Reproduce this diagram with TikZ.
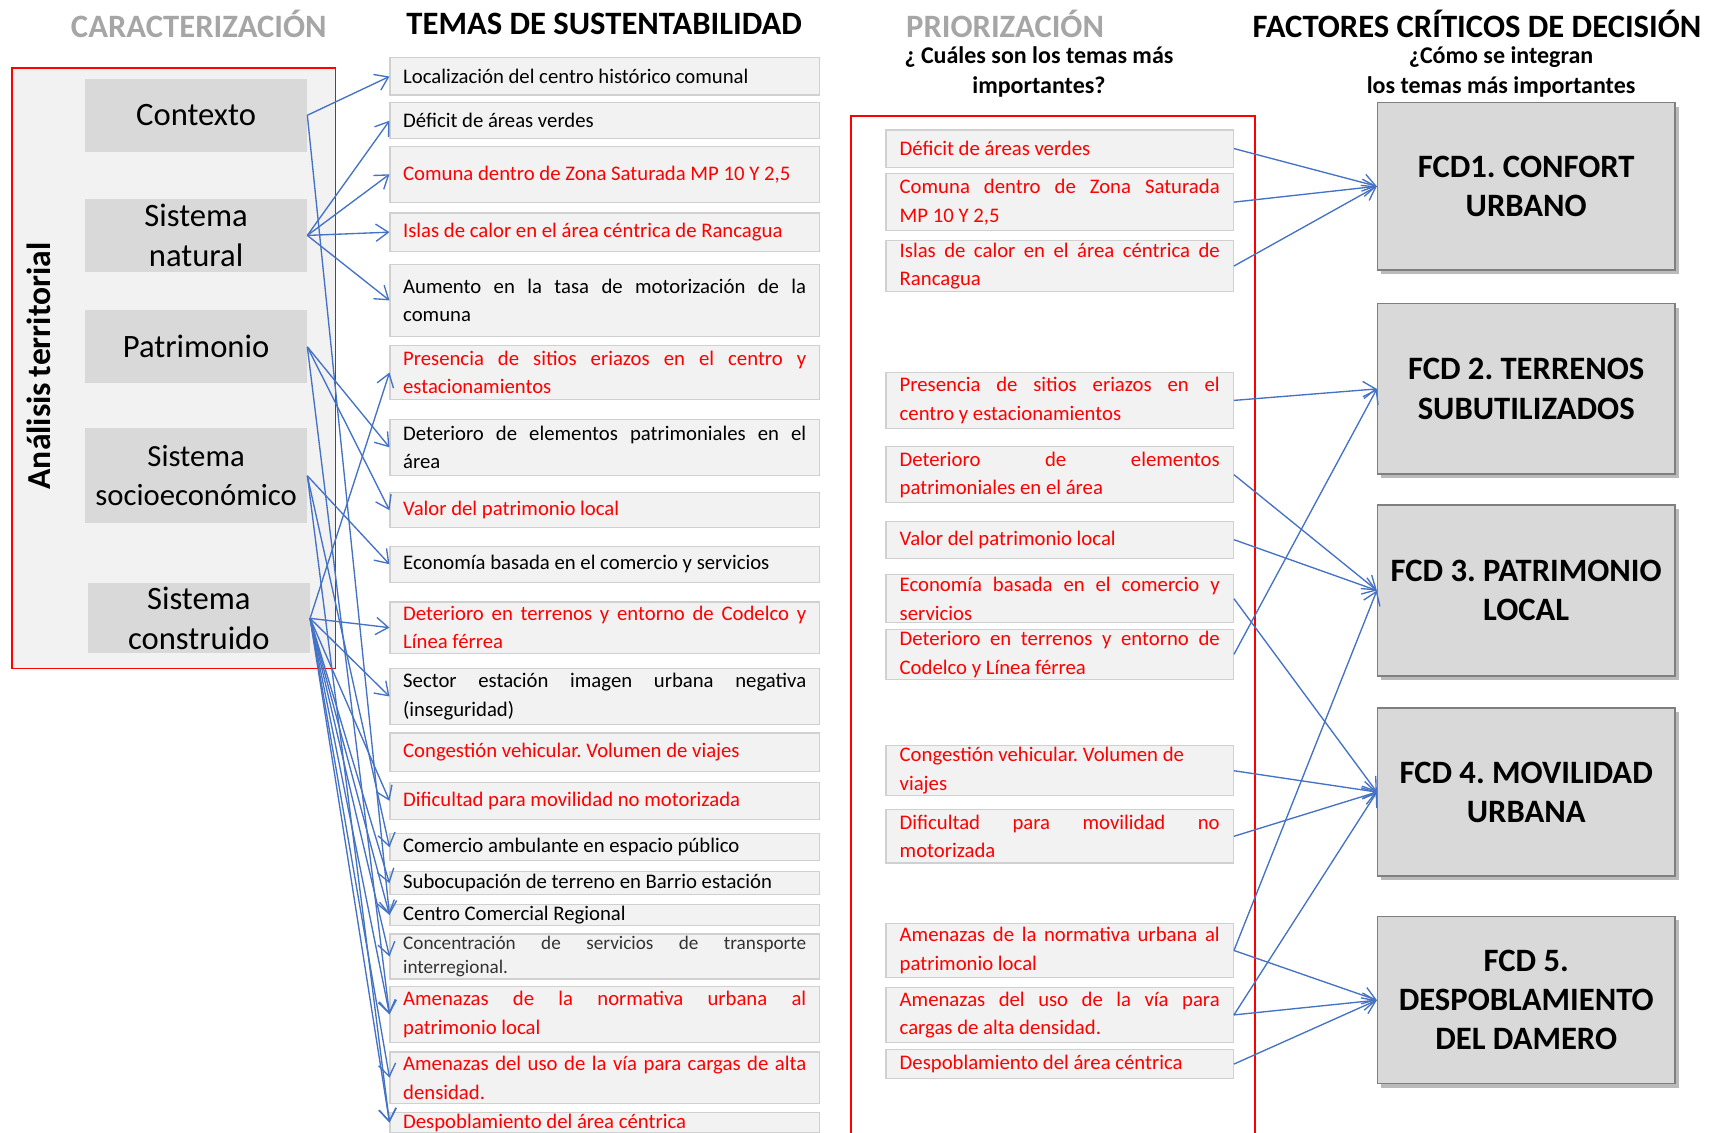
\documentclass[tikz,border=0pt]{standalone}
\usepackage{fontspec}
\setmainfont{Carlito}
\usetikzlibrary{positioning, arrows.meta, shadows}
\definecolor{azul}{HTML}{4472C4}
\definecolor{rojo}{HTML}{FF0000}
\definecolor{gristxt}{HTML}{A6A6A6}
\definecolor{grisclaro}{HTML}{F2F2F2}
\definecolor{grismedio}{HTML}{D9D9D9}
\definecolor{borde}{HTML}{D0D0D0}
\definecolor{bordefcd}{HTML}{7F7F7F}
\tolerance=10000
\hbadness=10000
\hyphenpenalty=10000
\frenchspacing

\begin{document}
\begin{tikzpicture}[x=0.02cm, y=-0.02cm,
    titulo/.style={font=\fontsize{17}{20}\selectfont\bfseries},
    pregunta/.style={font=\fontsize{12.5}{15.5}\selectfont\bfseries, align=center},
    celda/.style={rectangle, fill=grismedio, minimum width=4.06cm, inner ysep=0pt, align=center, font=\fontsize{17}{20.4}\selectfont},
    tema/.style={rectangle, draw=borde, fill=grisclaro, line width=0.6pt, minimum width=7.86cm, text width=7.38cm, inner xsep=0.24cm, inner ysep=1pt, align=justify, font=\fontsize{10.8}{14.8}\selectfont},
    prio/.style={tema, minimum width=6.36cm, text width=5.86cm, inner xsep=0.25cm, text=rojo},
    fcd/.style={rectangle, draw=bordefcd, fill=grismedio, line width=0.8pt, minimum width=5.44cm, align=center, font=\fontsize{17}{20.4}\selectfont\bfseries, drop shadow={shadow xshift=0.07cm, shadow yshift=-0.07cm, fill=black!45, opacity=0.6}},
    flecha/.style={draw=azul, line width=0.7pt, -{Straight Barb[length=6.5pt, width=9pt]}},
    marco/.style={draw=rojo, line width=0.9pt}]

    \useasboundingbox (0,0) rectangle (1568,1037);
    \clip (0,0) rectangle (1568,1037);

    \node[titulo, text=gristxt] (car) at (182,22) {CARACTERIZACIÓN};
    \node[titulo] (tem) at (553,22) {TEMAS DE SUSTENTABILIDAD};
    \node[titulo, text=gristxt] (pri) at (920,22) {PRIORIZACIÓN};
    \node[pregunta] (prip) at (951,66) {¿ Cuáles son los temas más\\importantes?};
    \node[titulo] (fac) at (1352,22) {FACTORES CRÍTICOS DE DECISIÓN};
    \node[pregunta] (facp) at (1374,66) {¿Cómo se integran\\los temas más importantes};

    \draw[marco, fill=grisclaro] (11,62) rectangle (307,612);
    \node[rotate=90, font=\fontsize{17.5}{20}\selectfont\bfseries] (ana) at (36,335) {Análisis\,territorial};
    \node[celda, minimum height=1.34cm] (ctx) at (179.5,105.5) {Contexto};
    \node[celda, minimum height=1.34cm] (nat) at (179.5,215.5) {Sistema\\natural};
    \node[celda, minimum height=1.34cm] (pat) at (179.5,317.5) {Patrimonio};
    \node[celda, minimum height=1.74cm, font=\fontsize{16}{20.4}\selectfont] (soc) at (179.5,435.5) {Sistema\\socioeconómico};
    \node[celda, minimum height=1.28cm] (con) at (182,566) {Sistema\\construido};

    \node[tema, minimum height=0.68cm] (t1) at (553.5,70) {Localización del centro histórico comunal};
    \node[tema, minimum height=0.66cm] (t2) at (553.5,110.5) {Déficit de áreas verdes};
    \node[tema, minimum height=1.02cm, text=rojo] (t3) at (553.5,159.5) {Comuna dentro de Zona Saturada MP 10 Y 2,5};
    \node[tema, minimum height=0.70cm, text=rojo] (t4) at (553.5,212.5) {Islas de calor en el área céntrica de Rancagua};
    \node[tema, minimum height=1.32cm] (t5) at (553.5,275) {Aumento en la tasa de motorización de la \linebreak comuna};
    \node[tema, minimum height=1.00cm, text=rojo] (t6) at (553.5,341) {Presencia de sitios eriazos en el centro y \linebreak estacionamientos};
    \node[tema, minimum height=1.02cm] (t7) at (553.5,409.5) {Deterioro de elementos patrimoniales en el \linebreak área};
    \node[tema, minimum height=0.64cm, text=rojo] (t8) at (553.5,467) {Valor del patrimonio local};
    \node[tema, minimum height=0.66cm] (t9) at (553.5,516.5) {Economía basada en el comercio y servicios};
    \node[tema, minimum height=0.94cm, text=rojo] (t10) at (553.5,574.5) {Deterioro en terrenos y entorno de Codelco y \linebreak Línea férrea};
    \node[tema, minimum height=1.02cm] (t11) at (553.5,637.5) {Sector estación imagen urbana negativa \linebreak (inseguridad)};
    \node[tema, minimum height=0.70cm, text=rojo] (t12) at (553.5,688.5) {Congestión vehicular. Volumen de viajes};
    \node[tema, minimum height=0.68cm, text=rojo] (t13) at (553.5,733) {Dificultad para movilidad no motorizada};
    \node[tema, minimum height=0.50cm] (t14) at (553.5,775.5) {Comercio ambulante en espacio público};
    \node[tema, minimum height=0.42cm] (t15) at (553.5,808.5) {Subocupación de terreno en Barrio estación};
    \node[tema, minimum height=0.38cm, inner ysep=0pt] (t16) at (553.5,837.5) {Centro Comercial Regional};
    \node[tema, minimum height=0.78cm, text=black!80, font=\fontsize{10}{12.8}\selectfont] (t17) at (553.5,875.5) {Concentración de servicios de transporte \linebreak interregional.};
    \node[tema, minimum height=1.02cm, text=rojo] (t18) at (553.5,928.5) {Amenazas de la normativa urbana al \linebreak patrimonio local};
    \node[tema, minimum height=0.94cm, text=rojo] (t19) at (553.5,986.5) {Amenazas del uso de la vía para cargas de alta \linebreak densidad.};
    \node[tema, minimum height=0.38cm, inner ysep=0pt, text=rojo] (t20) at (553.5,1027.5) {Despoblamiento del área céntrica};

    \draw[marco] (779,1045) -- (779,106) -- (1149,106) -- (1149,1045);
    \node[prio, minimum height=0.68cm] (p1) at (970,136) {Déficit de áreas verdes};
    \node[prio, minimum height=1.04cm] (p2) at (970,185) {Comuna dentro de Zona Saturada \linebreak MP 10 Y 2,5};
    \node[prio, minimum height=0.86cm] (p3) at (970,243.5) {Islas de calor en el área céntrica de \linebreak Rancagua};
    \node[prio, minimum height=1.02cm] (p4) at (970,366.5) {Presencia de sitios eriazos en el \linebreak centro y estacionamientos};
    \node[prio, minimum height=1.02cm] (p5) at (970,434.5) {Deterioro de elementos \linebreak patrimoniales en el área};
    \node[prio, minimum height=0.68cm] (p6) at (970,494) {Valor del patrimonio local};
    \node[prio, minimum height=0.88cm] (p7) at (970,548) {Economía basada en el comercio y \linebreak servicios};
    \node[prio, minimum height=0.92cm] (p8) at (970,599) {Deterioro en terrenos y entorno de \linebreak Codelco y Línea férrea};
    \node[prio, minimum height=0.86cm] (p9) at (970,705.5) {Congestión vehicular. Volumen de\\viajes};
    \node[prio, minimum height=0.98cm] (p10) at (970,765.5) {Dificultad para movilidad no \linebreak motorizada};
    \node[prio, minimum height=1.00cm] (p11) at (970,870) {Amenazas de la normativa urbana al \linebreak patrimonio local};
    \node[prio, minimum height=1.00cm] (p12) at (970,929) {Amenazas del uso de la vía para \linebreak cargas de alta densidad.};
    \node[prio, minimum height=0.52cm] (p13) at (970,974) {Despoblamiento del área céntrica};

    \node[fcd, minimum height=3.06cm] (f1) at (1397,170.5) {FCD1. CONFORT\\URBANO};
    \node[fcd, minimum height=3.12cm] (f2) at (1397,356) {FCD 2. TERRENOS\\SUBUTILIZADOS};
    \node[fcd, minimum height=3.14cm] (f3) at (1397,540.5) {FCD 3. PATRIMONIO\\LOCAL};
    \node[fcd, minimum height=3.08cm] (f4) at (1397,725) {FCD 4. MOVILIDAD\\URBANA};
    \node[fcd, minimum height=3.06cm] (f5) at (1397,915.5) {FCD 5.\\DESPOBLAMIENTO\\DEL DAMERO};

    \draw[flecha] (ctx.east) -- (t1.west);
    \draw[flecha] (ctx.east) -- (t16.west);
    \foreach \t in {t2,t3,t4,t5}
        \draw[flecha] (nat.east) -- (\t.west);
    \foreach \t in {t7,t8,t18}
        \draw[flecha] (pat.east) -- (\t.west);
    \foreach \t in {t9,t14,t20}
        \draw[flecha] (soc.east) -- (\t.west);
    \foreach \t in {t6,t10,t11,t13,t15,t16,t17,t18,t19,t20}
        \draw[flecha] (con.east) -- (\t.west);

    \foreach \p in {p1,p2,p3}
        \draw[flecha] (\p.east) -- (f1.west);
    \foreach \p in {p4,p8}
        \draw[flecha] (\p.east) -- (f2.west);
    \foreach \p in {p5,p6,p11}
        \draw[flecha] (\p.east) -- (f3.west);
    \foreach \p in {p7,p9,p10,p12}
        \draw[flecha] (\p.east) -- (f4.west);
    \foreach \p in {p11,p12,p13}
        \draw[flecha] (\p.east) -- (f5.west);
\end{tikzpicture}
\end{document}
